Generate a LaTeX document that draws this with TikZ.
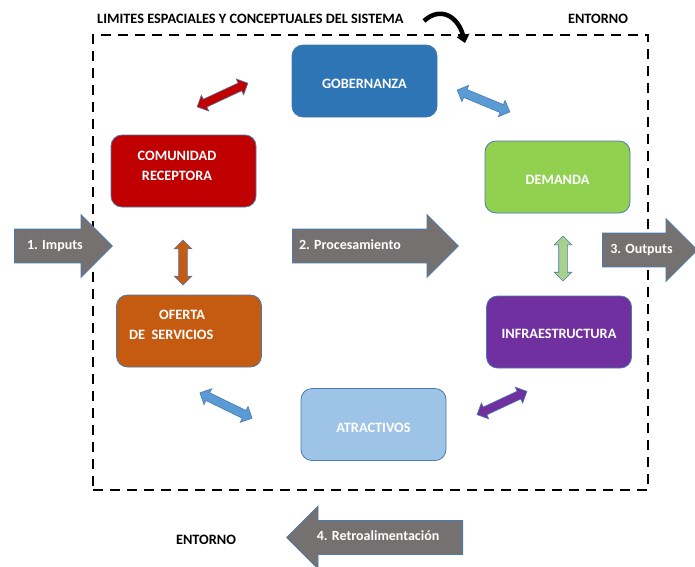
\documentclass[tikz,border=0pt]{standalone}
\usepackage{fontspec}
\setmainfont{Carlito}
\usetikzlibrary{shapes.arrows,arrows.meta}
\definecolor{gobc}{HTML}{2E75B6}
\definecolor{comc}{HTML}{C00000}
\definecolor{demc}{HTML}{92D050}
\definecolor{ofec}{HTML}{C55A11}
\definecolor{infc}{HTML}{7030A0}
\definecolor{atrc}{HTML}{9DC3E6}
\definecolor{grayc}{HTML}{767171}
\definecolor{edgec}{HTML}{4A7AAE}
\definecolor{arblue}{HTML}{5B9BD5}
\definecolor{argreen}{HTML}{A9D18E}
\tikzset{
  box/.style={draw=edgec, line width=0.8pt, rounded corners=11pt, minimum width=145pt, minimum height=72pt, text=white, font=\fontsize{14.3}{20}\selectfont\bfseries},
  lowtext/.style={text height=18pt, text depth=3pt},
  boxtext/.style={text=white, font=\fontsize{14.3}{20}\selectfont\bfseries, inner sep=0pt},
  bigarrow/.style={single arrow, draw=edgec, line width=0.8pt, fill=grayc, text=white, font=\fontsize{14}{15}\selectfont\bfseries, single arrow head extend=14.5pt, text height=9pt, text depth=3pt, inner ysep=10.5pt, inner xsep=4pt},
  dblarrow/.style={double arrow, draw=edgec, line width=0.6pt, double arrow head extend=4.5pt, inner xsep=0pt, inner ysep=4pt, text height=0pt, text depth=0pt},
  labeltext/.style={font=\fontsize{14.3}{15}\selectfont\bfseries, inner sep=0pt}
}
\begin{document}
\begin{tikzpicture}[x=1pt,y=-1pt]
\useasboundingbox (0,0) rectangle (695,566);
% frame
\node[draw, line width=2.5pt, dash pattern=on 10pt off 7pt, minimum width=555pt, minimum height=455pt, inner sep=0pt] (frame) at (370.5,262.5) {};
% titles
\node[labeltext, anchor=west] (title) at (97,19) {LIMITES ESPACIALES Y CONCEPTUALES DEL SISTEMA};
\node[labeltext] (ent1) at (598,19) {ENTORNO};
\node[labeltext] (ent2) at (206,540) {ENTORNO};
% curved arrow
\coordinate (ca) at (424,21);
\coordinate (cb) at (465,43);
\draw[line width=4.5pt, -{Triangle[length=8pt,width=13pt]}] (ca) .. controls (440,6) and (458,16) .. (cb);
% boxes
\node[box, lowtext, fill=gobc] (gob) at (364.5,81) {GOBERNANZA};
\node[box, fill=comc] (com) at (183.5,171) {};
\node[boxtext, align=center] (comt) at (177,166) {COMUNIDAD\\RECEPTORA};
\node[box, lowtext, fill=demc] (dem) at (557.5,177) {DEMANDA};
\node[box, fill=ofec] (ofe) at (189,331) {};
\node[boxtext, align=left, anchor=west] (ofet) at (129,325) {\hspace*{30pt}OFERTA\\DE\ \ SERVICIOS};
\node[box, text height=15pt, text depth=3pt, fill=infc] (inf) at (559,332) {INFRAESTRUCTURA};
\node[box, lowtext, fill=atrc] (atr) at (373.5,424.5) {ATRACTIVOS};
% big arrows
\node[bigarrow, minimum height=98pt, anchor=tail] (imp) at (14,246) {1. Imputs};
\node[bigarrow, minimum height=166pt, anchor=tail] (pro) at (292,246) {2. Procesamiento\hspace*{34pt}};
\node[bigarrow, minimum height=95pt, anchor=tail] (out) at (602,250) {3. Outputs};
\node[bigarrow, minimum height=176pt, anchor=tail, shape border rotate=180] (ret) at (463,537.5) {4. Retroalimentación\hspace*{10pt}};
% double arrows
\node[dblarrow, fill=comc, minimum height=56pt, rotate=25] (d1) at (222.5,95) {};
\node[dblarrow, fill=arblue, minimum height=57pt, rotate=-22.5] (d2) at (483.5,101) {};
\node[dblarrow, fill=ofec, minimum height=45pt, rotate=90] (d3) at (183,262.5) {};
\node[dblarrow, fill=argreen, minimum height=45pt, rotate=90] (d4) at (563,258.5) {};
\node[dblarrow, fill=arblue, minimum height=58pt, rotate=-26] (d5) at (226,405.5) {};
\node[dblarrow, fill=infc, minimum height=55pt, rotate=25] (d6) at (502,403) {};
\end{tikzpicture}
\end{document}
